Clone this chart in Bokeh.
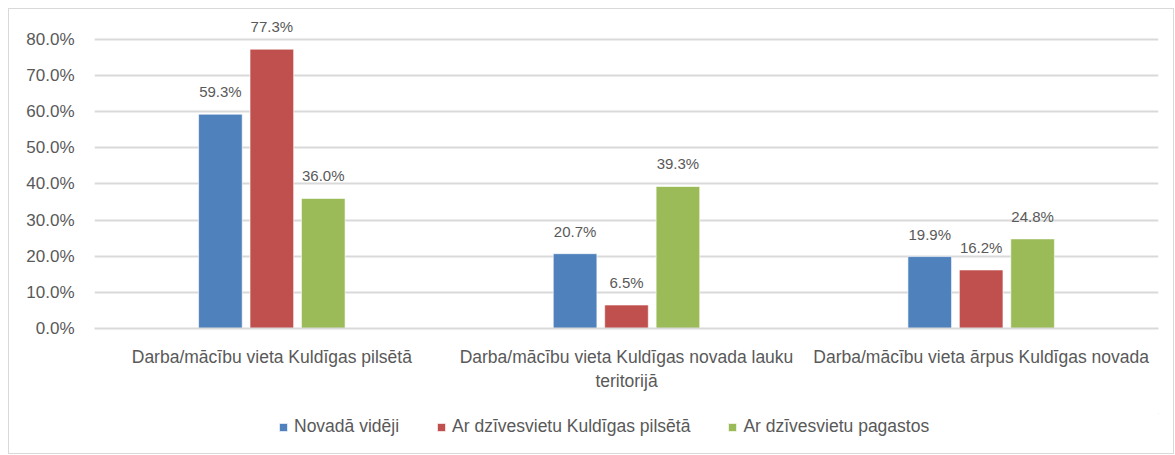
from bokeh.plotting import figure
from bokeh.layouts import column
from bokeh.models import (ColumnDataSource, FactorRange, Range1d, FixedTicker,
                          NumeralTickFormatter, Legend, LegendItem, LabelSet)
from bokeh.transform import dodge
from bokeh.core.properties import value
from bokeh.embed import file_html
from bokeh.resources import INLINE

categories = ["Darba/mācību vieta Kuldīgas pilsētā",
              "Darba/mācību vieta Kuldīgas novada lauku\nteritorijā",
              "Darba/mācību vieta ārpus Kuldīgas novada"]
series_names = ["Novadā vidēji", "Ar dzīvesvietu Kuldīgas pilsētā", "Ar dzīvesvietu pagastos"]
novada_videji = [0.593, 0.207, 0.199]
pilseta = [0.773, 0.065, 0.162]
pagasti = [0.360, 0.393, 0.248]
y_ticks = [0.0, 0.1, 0.2, 0.3, 0.4, 0.5, 0.6, 0.7, 0.8]

colors = ["#4f81bd", "#c0504d", "#9bbb59"]
FONT = "Liberation Sans"
TXT = "#595959"

src = ColumnDataSource(dict(
    cat=categories,
    s0=novada_videji, s1=pilseta, s2=pagasti,
    l0=[f"{v*100:.1f}%" for v in novada_videji],
    l1=[f"{v*100:.1f}%" for v in pilseta],
    l2=[f"{v*100:.1f}%" for v in pagasti],
))

W = 1164
p = figure(x_range=FactorRange(factors=categories), y_range=Range1d(0, 0.88),
           width=W, height=404, output_backend="svg", toolbar_location=None,
           min_border_left=85, min_border_right=15, min_border_top=1, min_border_bottom=85)
p.outline_line_color = None

offsets = [-0.145, 0.0, 0.145]
renderers = []
for i, off in enumerate(offsets):
    r = p.vbar(x=dodge("cat", off, range=p.x_range), top=f"s{i}", width=0.123,
               source=src, fill_color=colors[i], line_color="white", line_alpha=0.6, line_width=1)
    renderers.append(r)
    lbl = LabelSet(x=dodge("cat", off, range=p.x_range), y=f"s{i}", text=f"l{i}", source=src,
                   text_align="center", text_baseline="bottom", y_offset=14,
                   text_font=value(FONT), text_font_size=value("15px"), text_color=value(TXT))
    p.add_layout(lbl)

p.yaxis.ticker = FixedTicker(ticks=y_ticks)
p.yaxis.formatter = NumeralTickFormatter(format="0.0%")
p.yaxis.axis_line_color = None
p.yaxis.major_tick_line_color = None
p.yaxis.minor_tick_line_color = None
p.yaxis.major_label_standoff = 14
p.yaxis.major_label_text_font = FONT
p.yaxis.major_label_text_font_size = "17px"
p.yaxis.major_label_text_color = TXT

p.xaxis.axis_line_color = "#d9d9d9"
p.xaxis.axis_line_width = 2
p.xaxis.major_tick_line_color = None
p.xaxis.minor_tick_line_color = None
p.xaxis.major_label_standoff = 12
p.xaxis.major_label_text_font = FONT
p.xaxis.major_label_text_font_size = "17.5px"
p.xaxis.major_label_text_color = TXT

p.xgrid.grid_line_color = None
p.ygrid.grid_line_color = "#d9d9d9"
p.ygrid.grid_line_width = 2

# legend strip below the chart (swatch renderers sit outside the visible range)
lg = figure(width=W, height=40, output_backend="svg", toolbar_location=None,
            x_range=Range1d(0, 1), y_range=Range1d(0, 1),
            min_border_left=0, min_border_right=0, min_border_top=0, min_border_bottom=0)
lg.axis.visible = False
lg.grid.visible = False
lg.outline_line_color = None
leg_r = [lg.vbar(x=[5], top=[5], bottom=[4], width=0.1, fill_color=colors[i],
                 line_color="white", line_alpha=0.6)
         for i in range(3)]
legend = Legend(items=[LegendItem(label=series_names[i], renderers=[leg_r[i]]) for i in range(3)],
                orientation="horizontal", location=(184, 16),
                label_text_font=FONT, label_text_font_size="17.5px", label_text_color=TXT,
                glyph_width=10, glyph_height=10, label_standoff=6, spacing=37,
                border_line_color=None, background_fill_alpha=0, padding=0, margin=0)
lg.add_layout(legend)

layout = column(p, lg, spacing=0)
layout.margin = (8, 0, 0, 8)
layout.styles = {"border": "1px solid #d9d9d9"}

open("out.html", "w").write(file_html(layout, INLINE))
